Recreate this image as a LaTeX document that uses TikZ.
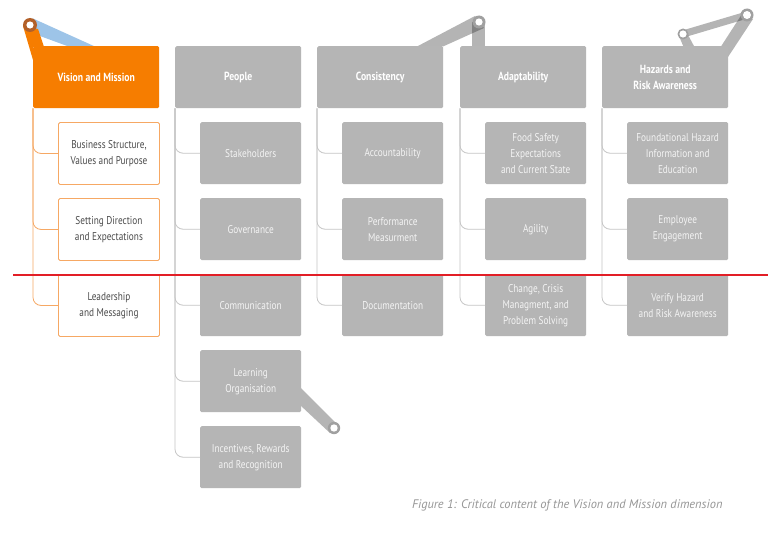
\documentclass[tikz,border=0pt]{standalone}
\usepackage{fontspec}
\setmainfont{PT Sans}[FakeStretch=0.82]
\newfontfamily\capfont{PT Sans}
\definecolor{vmorange}{RGB}{246,125,0}
\definecolor{boxgray}{RGB}{181,181,181}
\definecolor{linegray}{RGB}{198,198,198}
\definecolor{lineorange}{RGB}{246,168,100}
\definecolor{txtdark}{RGB}{75,75,75}
\definecolor{txtlight}{RGB}{244,244,244}
\definecolor{capgray}{RGB}{150,150,150}
\definecolor{bandblue}{RGB}{157,196,232}
\definecolor{ringbrown}{RGB}{178,96,40}
\definecolor{ringgray}{RGB}{160,160,160}
\definecolor{bandink}{RGB}{30,30,30}
\definecolor{redline}{RGB}{226,30,38}
\tikzset{
  hdr/.style={rectangle, rounded corners=1.5pt, minimum width=126pt, minimum height=62pt,
    inner sep=0pt, align=center, font=\bfseries\fontsize{11.8}{16}\selectfont, text=white, anchor=north west},
  hdrgray/.style={hdr, fill=boxgray},
  hdrorange/.style={hdr, fill=vmorange},
  child/.style={rectangle, rounded corners=1.5pt, minimum width=101pt, minimum height=62pt,
    inner sep=0pt, align=center, font=\fontsize{11.3}{16}\selectfont, anchor=north west},
  childgray/.style={child, fill=boxgray, text=txtlight},
  childwhite/.style={child, fill=white, draw=lineorange, line width=0.9pt, text=txtdark},
  bk/.style={draw=linegray, line width=0.8pt, rounded corners=8pt},
  bkorange/.style={draw=lineorange, line width=0.8pt, rounded corners=8pt},
  band/.style={fill=bandink, fill opacity=0.333},
  solidband/.style={fill=boxgray},
  ringg/.style={fill=ringgray},
  hole/.style={fill=white},
  capstyle/.style={font=\capfont\itshape\fontsize{12.4}{14}\selectfont, text=capgray},
  redrule/.style={draw=redline, line width=1.8pt}
}
\begin{document}
\begin{tikzpicture}[x=1pt,y=-1pt]
\useasboundingbox (0,0) rectangle (779,535);
\fill[white] (0,0) rectangle (779,535);

% ---- decorative handles (drawn first, boxes cover their ends)
% top-left (orange / blue)
\fill[bandblue] (33,18.5) -- (96,47) -- (70,47) -- (29,32) -- cycle;
\fill[vmorange] (23,26) -- (38,29) -- (44,47) -- (33,47) -- (33,60) -- cycle;
% consistency / adaptability
\fill[band] (475,16) -- (484,28) -- (443,46.5) -- (417,46.5) -- cycle;
\fill[band] (472,22) rectangle (485,48);
% hazards
\fill[band] (682,30.6) -- (746,11.6) -- (748,18.4) -- (684,37.4) -- cycle;
\fill[band] (679,36) -- (687,33) -- (695,48) -- (684,48) -- cycle;
\fill[band] (742,14) -- (753,19) -- (728,57) -- (720,48) -- cycle;
% learning organisation
\fill[solidband] (300,387) -- (336,423) -- (330,433) -- (300,405) -- cycle;

% ---- headers
\node[hdrorange] (h1) at (33,46) {Vision and Mission};
\node[hdrgray] (h2) at (175,46) {People};
\node[hdrgray] (h3) at (317,46) {Consistency};
\node[hdrgray] (h4) at (460,46) {Adaptability};
\node[hdrgray] (h5) at (602,46) {Hazards and\\Risk Awareness};

% ---- children
\node[childwhite] (c11) at (58,122) {Business Structure,\\Values and Purpose};
\node[childwhite] (c12) at (58,198) {Setting Direction\\and Expectations};
\node[childwhite] (c13) at (58,274) {Leadership\\and Messaging};

\node[childgray] (c21) at (200,122) {Stakeholders};
\node[childgray] (c22) at (200,198) {Governance};
\node[childgray] (c23) at (200,274) {Communication};
\node[childgray] (c24) at (200,350) {Learning\\Organisation};
\node[childgray] (c25) at (200,426) {Incentives, Rewards\\and Recognition};

\node[childgray] (c31) at (342,122) {Accountability};
\node[childgray] (c32) at (342,198) {Performance\\Measurment};
\node[childgray] (c33) at (342,274) {Documentation};

\node[childgray] (c41) at (485,122) {Food Safety\\Expectations\\and Current State};
\node[childgray] (c42) at (485,198) {Agility};
\node[childgray] (c43) at (485,274) {Change, Crisis\\Managment, and\\Problem Solving};

\node[childgray] (c51) at (627,122) {Foundational Hazard\\Information and\\Education};
\node[childgray] (c52) at (627,198) {Employee\\Engagement};
\node[childgray] (c53) at (627,274) {Verify Hazard\\and Risk Awareness};

% ---- brackets
\foreach \c in {c11,c12,c13} \draw[bkorange] (h1.south west) |- (\c.west);
\foreach \c in {c21,c22,c23,c24,c25} \draw[bk] (h2.south west) |- (\c.west);
\foreach \c in {c31,c32,c33} \draw[bk] (h3.south west) |- (\c.west);
\foreach \c in {c41,c42,c43} \draw[bk] (h4.south west) |- (\c.west);
\foreach \c in {c51,c52,c53} \draw[bk] (h5.south west) |- (\c.west);

% ---- handle joints
\coordinate (j1) at (30,25);
\coordinate (j2) at (479,22);
\coordinate (j3) at (683,34);
\coordinate (j4) at (747,15);
\coordinate (j5) at (334,428);
\fill[ringbrown] (j1) circle[radius=7];
\fill[hole] (j1) circle[radius=3.6];
\fill[ringg] (j2) circle[radius=6.5];
\fill[hole] (j2) circle[radius=3.6];
\fill[ringg] (j3) circle[radius=5.5];
\fill[hole] (j3) circle[radius=3.6];
\fill[ringg] (j4) circle[radius=6.5];
\fill[hole] (j4) circle[radius=4];
\fill[ringg] (j5) circle[radius=6.2];
\fill[hole] (j5) circle[radius=3.7];

% ---- caption
\node[capstyle, anchor=east] (cap) at (726,505) {Figure 1: Critical content of the Vision and Mission dimension};

% ---- red rule
\coordinate (rl) at (13,275);
\coordinate (rr) at (768,275);
\draw[redrule] (rl) -- (rr);
\end{tikzpicture}
\end{document}
